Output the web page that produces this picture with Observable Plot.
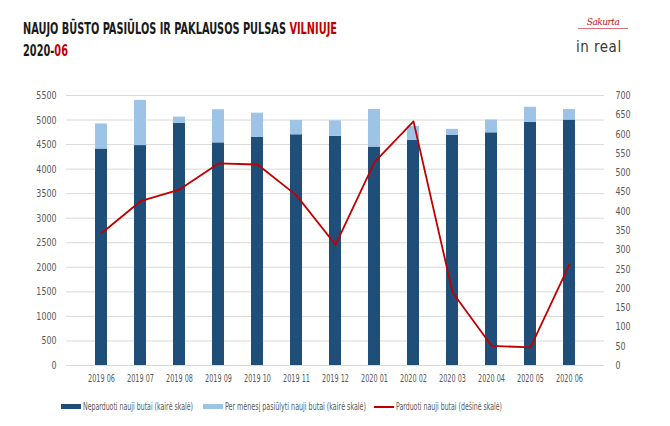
<!DOCTYPE html>
<html>
<head>
<meta charset="utf-8">
<script src="https://cdn.jsdelivr.net/npm/d3@7"></script>
<script src="https://cdn.jsdelivr.net/npm/@observablehq/plot@0.6"></script>
<style>
  html, body { margin: 0; padding: 0; background: #fff; }
  body { width: 670px; height: 426px; position: relative; overflow: hidden;
         font-family: "DejaVu Sans Condensed", "DejaVu Sans", sans-serif; font-stretch: condensed; }
  #title { position: absolute; left: 23px; top: 18px; font-weight: bold; font-size: 15.5px;
           line-height: 22px; color: #1a1a1a; white-space: nowrap; transform-origin: 0 0; }
  #title .red { color: #c00000; }
  #logo1 { position: absolute; left: 578px; top: 16px; width: 50px; text-align: center;
           font-family: "DejaVu Serif", serif; font-style: italic; color: #c0111f; font-size: 10px;
           border-bottom: 1px solid #d9707a; padding-bottom: 1px; letter-spacing: -0.5px; }
  #logo2 { position: absolute; left: 576px; top: 38px; font-family: "DejaVu Sans", sans-serif;
           color: #3a3a3a; font-size: 15px; letter-spacing: 0.5px; }
  #chart { position: absolute; left: 0; top: 80px; }
  #legend { position: absolute; top: 400px; left: 0; width: 670px; font-size: 11px; color: #595959; }
  .item { position: absolute; display: flex; align-items: center; white-space: nowrap; }
  .sw { display: inline-block; width: 20px; height: 5px; margin-right: 2px; flex: none; }
  .ln { display: inline-block; width: 20px; height: 2px; margin-right: 2px; background: #c00000; flex: none; }
  .lt { display: inline-block; transform-origin: 0 50%; }
</style>
</head>
<body>
<div id="title">NAUJO BŪSTO PASIŪLOS IR PAKLAUSOS PULSAS <span class="red">VILNIUJE</span><br>2020-<span class="red">06</span></div>
<div id="logo1">Sakurta</div>
<div id="logo2">in real</div>
<div id="chart"></div>
<div id="legend"></div>
<script>
const months = ["2019 06","2019 07","2019 08","2019 09","2019 10","2019 11","2019 12","2020 01","2020 02","2020 03","2020 04","2020 05","2020 06"];
const unsold = [4410,4480,4935,4535,4645,4700,4670,4450,4585,4685,4740,4955,5000];
const offered = [510,920,125,675,495,290,315,765,285,125,260,305,215];
const sold = [343,426,456,524,521,441,313,527,633,190,51,47,262];
const leftTicks = d3.range(0, 5501, 500);
const rightTicks = d3.range(0, 701, 50);
const seriesNames = ["Neparduoti nauji butai (kairė skalė)", "Per mėnesį pasiūlyti nauji butai (kairė skalė)", "Parduoti nauji butai (dešinė skalė)"];
const colors = ["#1f4e79", "#9dc3e6", "#c00000"];

const k = 5500 / 700;
const bars = [];
months.forEach((m, i) => {
  bars.push({month: m, series: seriesNames[0], value: unsold[i]});
  bars.push({month: m, series: seriesNames[1], value: offered[i]});
});
const line = months.map((m, i) => ({month: m, value: sold[i] * k}));

const chart = Plot.plot({
  width: 670,
  height: 310,
  marginTop: 15,
  marginBottom: 25,
  marginLeft: 66,
  marginRight: 66,
  style: {fontFamily: '"DejaVu Sans Condensed", "DejaVu Sans", sans-serif', fontSize: "11px", color: "#595959", background: "transparent"},
  x: {domain: months, padding: 0.685, label: null},
  y: {domain: [0, 5500], label: null},
  color: {domain: seriesNames.slice(0, 2), range: colors.slice(0, 2)},
  marks: [
    Plot.gridY(leftTicks, {stroke: "#d9d9d9", strokeOpacity: 1, strokeWidth: 1}),
    Plot.barY(bars, {x: "month", y: "value", fill: "series", order: seriesNames.slice(0, 2)}),
    Plot.line(line, {x: "month", y: "value", stroke: colors[2], strokeWidth: 1.8}),
    Plot.axisX({tickSize: 0, tickPadding: 9, label: null, fontSize: 10, className: "ax-x"}),
    Plot.axisY(leftTicks, {anchor: "left", tickSize: 0, tickPadding: 10, label: null, tickFormat: d => String(d), className: "ax-l"}),
    Plot.axisY(rightTicks.map(t => t * k), {anchor: "right", tickSize: 0, tickPadding: 11, label: null, tickFormat: d => String(Math.round(d / k)), textAnchor: "start", className: "ax-r"})
  ]
});
document.getElementById("chart").appendChild(chart);

// condense tick labels horizontally to mimic the narrow reference font
function condense(sel, factor) {
  chart.querySelectorAll(sel + " text").forEach(t => {
    const w = t.getComputedTextLength();
    t.setAttribute("textLength", (w * factor).toFixed(2));
    t.setAttribute("lengthAdjust", "spacingAndGlyphs");
  });
}
condense("g[aria-label='x-axis tick label']", 0.72);
condense("g[aria-label='y-axis tick label']", 0.8);

// title width fit
const title = document.getElementById("title");
const tw = title.getBoundingClientRect().width;
title.style.transform = `scaleX(${314 / tw})`;

const legend = document.getElementById("legend");
const pos = [61, 203, 374];
const targetW = [110, 141, 106];
seriesNames.forEach((n, i) => {
  const it = document.createElement("div");
  it.className = "item";
  it.style.left = pos[i] + "px";
  const sw = document.createElement("span");
  if (i < 2) { sw.className = "sw"; sw.style.background = colors[i]; }
  else { sw.className = "ln"; }
  it.appendChild(sw);
  const t = document.createElement("span");
  t.className = "lt";
  t.textContent = n;
  it.appendChild(t);
  legend.appendChild(it);
  const w = t.getBoundingClientRect().width;
  t.style.transform = `scaleX(${targetW[i] / w})`;
});
</script>
</body>
</html>
